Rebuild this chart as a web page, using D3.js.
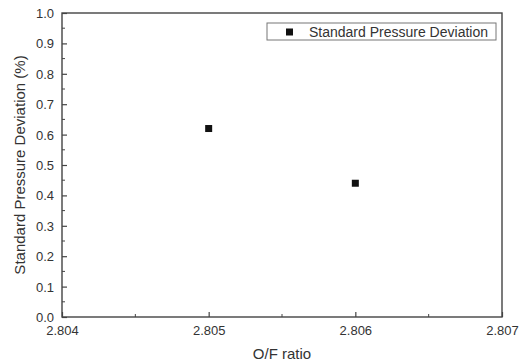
<!DOCTYPE html>
<html>
<head>
<meta charset="utf-8">
<script src="https://cdn.jsdelivr.net/npm/d3@7"></script>
<style>
  body { margin: 0; background: #fff; }
  svg text { font-family: "Liberation Sans", Arial, sans-serif; fill: #333; }
</style>
</head>
<body>
<svg id="chart" width="524" height="361"></svg>
<script>
// data
var ofRatio = [2.805, 2.806];
var pressureDev = [0.62, 0.44];
var seriesName = "Standard Pressure Deviation";
var xTicks = [2.804, 2.805, 2.806, 2.807];
var yTicks = [0, 0.1, 0.2, 0.3, 0.4, 0.5, 0.6, 0.7, 0.8, 0.9, 1.0];

var svg = d3.select("#chart");
var margin = { top: 13, right: 22, bottom: 44, left: 62 };
var width = 524 - margin.left - margin.right,
    height = 361 - margin.top - margin.bottom;

var g = svg.append("g")
    .attr("transform", `translate(${margin.left},${margin.top})`);

var x = d3.scaleLinear().domain([2.804, 2.807]).range([0, width]);
var y = d3.scaleLinear().domain([0, 1]).range([height, 0]);

var axisColor = "#444";

// minor ticks (halfway)
var xMinor = d3.range(2.8045, 2.807, 0.001);
var yMinor = d3.range(0.05, 1, 0.1);

// bottom axis, ticks pointing inward
var xAxis = g.append("g")
    .attr("transform", `translate(0,${height})`)
    .call(d3.axisBottom(x).tickValues(xTicks).tickSizeInner(-5).tickSizeOuter(0)
        .tickPadding(9).tickFormat(d3.format(".3f")));
xAxis.append("g").selectAll("line").data(xMinor).join("line")
    .attr("x1", d => x(d)).attr("x2", d => x(d))
    .attr("y1", 0).attr("y2", -3)
    .attr("stroke", axisColor);

var yAxis = g.append("g")
    .call(d3.axisLeft(y).tickValues(yTicks).tickSizeInner(-5).tickSizeOuter(0)
        .tickPadding(8).tickFormat(d3.format(".1f")));
yAxis.append("g").selectAll("line").data(yMinor).join("line")
    .attr("y1", d => y(d)).attr("y2", d => y(d))
    .attr("x1", 0).attr("x2", 3)
    .attr("stroke", axisColor);

g.selectAll(".domain").remove();
g.selectAll(".tick line").attr("stroke", axisColor).attr("stroke-width", 1.2);
g.selectAll(".tick text").attr("font-size", 13).style("fill", "#333");
yAxis.selectAll(".tick text").attr("dy", "0.35em");

// frame
g.append("rect")
    .attr("width", width).attr("height", height)
    .attr("fill", "none")
    .attr("stroke", axisColor)
    .attr("stroke-width", 1.4);

// points
var pts = ofRatio.map((v, i) => ({ x: v, y: pressureDev[i] }));
g.selectAll(".pt").data(pts).join("rect")
    .attr("class", "pt")
    .attr("x", d => x(d.x) - 3.5)
    .attr("y", d => y(d.y) - 3.5)
    .attr("width", 7).attr("height", 7)
    .attr("fill", "#111");

// legend
var legend = g.append("g").attr("transform", `translate(${267 - margin.left},${23 - margin.top})`);
legend.append("rect")
    .attr("width", 229).attr("height", 17)
    .attr("fill", "#fff")
    .attr("stroke", "#777");
legend.append("rect")
    .attr("x", 19).attr("y", 5.5)
    .attr("width", 7).attr("height", 7)
    .attr("fill", "#111");
legend.append("text")
    .attr("x", 42).attr("y", 14)
    .attr("font-size", 14)
    .text(seriesName);

// axis labels
svg.append("text")
    .attr("x", margin.left + width / 2)
    .attr("y", 359)
    .attr("text-anchor", "middle")
    .attr("font-size", 15)
    .text("O/F ratio");

svg.append("text")
    .attr("transform", "rotate(-90)")
    .attr("x", -(margin.top + height / 2))
    .attr("y", 25)
    .attr("text-anchor", "middle")
    .attr("font-size", 15)
    .text("Standard Pressure Deviation (%)");
</script>
</body>
</html>
